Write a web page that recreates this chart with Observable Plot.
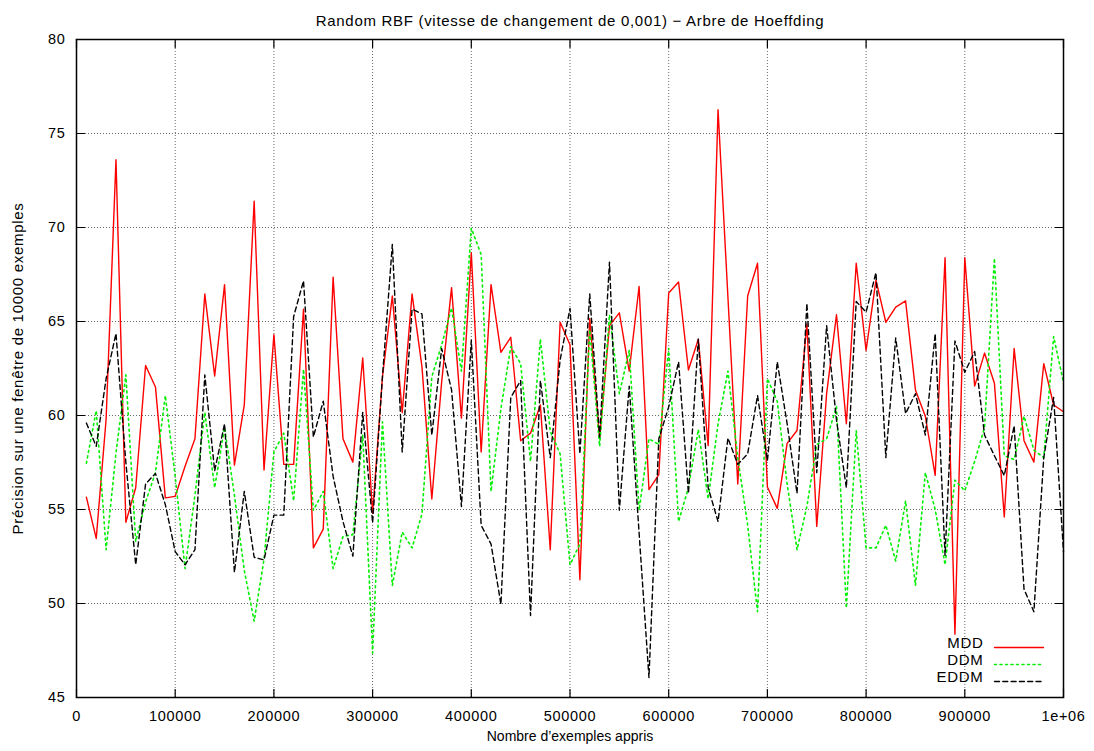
<!DOCTYPE html>
<html>
<head>
<meta charset="utf-8">
<script src="https://cdn.jsdelivr.net/npm/d3@7"></script>
<script src="https://cdn.jsdelivr.net/npm/@observablehq/plot@0.6"></script>
<style>
  html, body { margin: 0; padding: 0; background: #fff; }
  #chart svg { display: block; }
  #chart svg text { letter-spacing: 0.7px; }
</style>
</head>
<body>
<div id="chart"></div>
<script>
// ---- Data ----
const examples = [
  10000, 20000, 30000, 40000, 50000, 60000, 70000, 80000, 90000, 100000,
  110000, 120000, 130000, 140000, 150000, 160000, 170000, 180000, 190000, 200000,
  210000, 220000, 230000, 240000, 250000, 260000, 270000, 280000, 290000, 300000,
  310000, 320000, 330000, 340000, 350000, 360000, 370000, 380000, 390000, 400000,
  410000, 420000, 430000, 440000, 450000, 460000, 470000, 480000, 490000, 500000,
  510000, 520000, 530000, 540000, 550000, 560000, 570000, 580000, 590000, 600000,
  610000, 620000, 630000, 640000, 650000, 660000, 670000, 680000, 690000, 700000,
  710000, 720000, 730000, 740000, 750000, 760000, 770000, 780000, 790000, 800000,
  810000, 820000, 830000, 840000, 850000, 860000, 870000, 880000, 890000, 900000,
  910000, 920000, 930000, 940000, 950000, 960000, 970000, 980000, 990000, 1000000
];

const mdd = [
  55.66, 53.46, 59.8, 73.6, 54.32, 56.16, 62.66, 61.52, 55.62, 55.7,
  57.3, 58.76, 66.46, 62.1, 66.96, 57.36, 60.56, 71.4, 57.1, 64.3,
  57.4, 57.4, 65.66, 52.96, 53.96, 67.36, 58.76, 57.52, 63.06, 54.8,
  62.06, 66.36, 60.16, 66.46, 62.6, 55.56, 61.8, 66.8, 59.86, 68.66,
  58.06, 66.96, 63.36, 64.16, 58.66, 59.06, 60.56, 52.86, 64.96, 63.76,
  51.26, 65.16, 58.76, 64.78, 65.46, 62.36, 66.86, 56.06, 56.86, 66.52,
  67.1, 62.42, 64.06, 58.4, 76.26, 66.3, 56.36, 66.36, 68.1, 56.2,
  55.06, 58.52, 59.2, 64.86, 54.1, 61.16, 65.36, 59.56, 68.1, 63.46,
  67.2, 64.96, 65.76, 66.1, 61.36, 59.96, 56.82, 68.4, 48.36, 68.4,
  61.56, 63.32, 61.72, 54.6, 63.56, 58.66, 57.52, 62.76, 60.56, 60.2
];

const ddm = [
  57.46, 60.26, 52.86, 58.0, 62.16, 53.3, 55.4, 56.96, 61.06, 56.76,
  51.86, 55.76, 60.16, 56.16, 59.36, 55.76, 51.76, 49.06, 52.36, 58.06,
  59.06, 55.46, 62.46, 54.96, 55.96, 51.86, 53.56, 53.66, 58.96, 47.36,
  59.66, 50.96, 53.8, 52.96, 54.76, 62.06, 63.76, 65.72, 62.36, 69.96,
  68.56, 55.96, 60.36, 63.66, 62.76, 57.56, 64.06, 59.16, 57.96, 52.06,
  53.16, 64.56, 58.36, 65.36, 61.16, 63.46, 54.96, 58.76, 58.46, 63.56,
  54.36, 56.16, 59.26, 55.56, 59.56, 62.36, 57.76, 54.16, 49.56, 61.96,
  60.76, 56.36, 52.86, 55.16, 58.46, 58.76, 60.46, 49.76, 59.2, 52.96,
  52.96, 54.16, 52.26, 55.46, 50.96, 56.96, 55.0, 52.06, 56.56, 56.0,
  57.56, 59.36, 68.36, 57.86, 57.66, 59.96, 58.16, 57.76, 64.2, 61.76
];

const eddm = [
  59.6, 58.36, 61.96, 64.36, 57.5, 52.06, 56.36, 56.92, 55.26, 52.76,
  52.06, 52.86, 62.16, 57.06, 59.56, 51.66, 55.96, 52.46, 52.32, 54.7,
  54.7, 65.26, 67.16, 58.86, 60.76, 56.76, 54.36, 52.52, 60.16, 54.3,
  62.06, 69.1, 58.06, 65.66, 65.4, 58.96, 63.56, 61.36, 55.16, 64.0,
  54.16, 53.16, 49.96, 60.96, 61.86, 49.36, 61.86, 57.76, 62.96, 65.7,
  57.96, 66.46, 58.86, 68.16, 54.96, 61.56, 53.76, 46.06, 58.76, 60.46,
  62.86, 55.86, 64.06, 56.16, 54.36, 58.8, 57.4, 57.96, 61.06, 57.6,
  62.86, 59.56, 55.86, 65.96, 56.96, 64.78, 59.76, 56.16, 66.06, 65.5,
  67.6, 57.76, 64.12, 60.1, 61.16, 58.96, 64.36, 52.56, 63.96, 62.3,
  63.4, 58.96, 57.86, 56.8, 59.46, 50.76, 49.56, 57.76, 60.96, 52.76
];

const seriesNames = ["MDD", "DDM", "EDDM"];

const xTicks = [0, 100000, 200000, 300000, 400000, 500000, 600000, 700000, 800000, 900000, 1000000];
const xTickLabels = ["0", "100000", "200000", "300000", "400000", "500000", "600000", "700000", "800000", "900000", "1e+06"];
const yTicks = [45, 50, 55, 60, 65, 70, 75, 80];

const titleText = "Random RBF (vitesse de changement de 0,001) \u2212 Arbre de Hoeffding";
const xLabelText = "Nombre d\u2019exemples appris";
const yLabelText = "Pr\u00e9cision sur une fen\u00eatre de 10000 exemples";

// ---- Table ----
const rows = examples.map((n, i) => ({n, mdd: mdd[i], ddm: ddm[i], eddm: eddm[i]}));
const xLabelMap = new Map(xTicks.map((v, i) => [v, xTickLabels[i]]));

// ---- Styles ----
const styles = {
  MDD: {stroke: "#ff0000", strokeWidth: 1.4, strokeDasharray: null},
  DDM: {stroke: "#00ee00", strokeWidth: 1.6, strokeDasharray: "2,3.5"},
  EDDM: {stroke: "#000000", strokeWidth: 1.4, strokeDasharray: "5,3.3"}
};

const segShape = {draw(ctx, l) { ctx.moveTo(0, 0); ctx.lineTo(0, -l); }};
const tickLen = 8;

const chart = Plot.plot({
  width: 1094,
  height: 751,
  marginLeft: 76,
  marginRight: 31,
  marginTop: 39,
  marginBottom: 54,
  style: {fontFamily: "'Liberation Sans', Arial, Helvetica, sans-serif", fontSize: "14px", background: "#fff", color: "#000"},
  x: {type: "linear", domain: [xTicks[0], xTicks[xTicks.length - 1]]},
  y: {type: "linear", domain: [yTicks[0], yTicks[yTicks.length - 1]]},
  marks: [
    Plot.gridX(xTicks, {stroke: "#000", strokeOpacity: 0.6, strokeDasharray: "1,2"}),
    Plot.gridY(yTicks, {stroke: "#000", strokeOpacity: 0.6, strokeDasharray: "1,2"}),
    Plot.axisX(xTicks, {tickSize: 0, tickPadding: 13, tickFormat: d => xLabelMap.get(d), label: null, fontSize: 14.5}),
    Plot.axisY(yTicks, {tickSize: 0, tickPadding: 11, label: null, fontSize: 14.5}),
    // inward ticks on all four sides
    Plot.vector(xTicks, {x: d => d, frameAnchor: "bottom", rotate: 0, anchor: "start", length: tickLen, shape: segShape, stroke: "#000", strokeWidth: 1.2}),
    Plot.vector(xTicks, {x: d => d, frameAnchor: "top", rotate: 180, anchor: "start", length: tickLen, shape: segShape, stroke: "#000", strokeWidth: 1.2}),
    Plot.vector(yTicks, {y: d => d, frameAnchor: "left", rotate: 90, anchor: "start", length: tickLen, shape: segShape, stroke: "#000", strokeWidth: 1.2}),
    Plot.vector(yTicks, {y: d => d, frameAnchor: "right", rotate: -90, anchor: "start", length: tickLen, shape: segShape, stroke: "#000", strokeWidth: 1.2}),
    // series
    Plot.line(rows, {x: "n", y: "mdd", ...styles.MDD}),
    Plot.line(rows, {x: "n", y: "ddm", ...styles.DDM}),
    Plot.line(rows, {x: "n", y: "eddm", ...styles.EDDM}),
    Plot.frame({stroke: "#000", strokeWidth: 1.5}),
    // legend
    ...seriesNames.flatMap((name, i) => [
      Plot.text([name], {frameAnchor: "bottom-right", dx: -80, dy: -50 + i * 17, textAnchor: "end", fontSize: 15, fill: "#000"}),
      Plot.vector([name], {frameAnchor: "bottom-right", dx: -20, dy: -50 + i * 17, rotate: 90, anchor: "end", length: 49, shape: segShape, ...styles[name]})
    ]),
    // titles
    Plot.text([titleText], {frameAnchor: "top", dy: -24, fontSize: 15, fill: "#000"}),
    Plot.text([xLabelText], {frameAnchor: "bottom", dy: 43, fontSize: 14, fill: "#000"}),
    Plot.text([yLabelText], {frameAnchor: "left", dx: -58, rotate: -90, textAnchor: "middle", fontSize: 15, fill: "#000"})
  ]
});

document.getElementById("chart").appendChild(chart);
// the x-axis label is set without extra spacing
chart.querySelectorAll("text").forEach(t => {
  if (t.textContent === xLabelText) t.style.letterSpacing = "0px";
});
</script>
</body>
</html>
